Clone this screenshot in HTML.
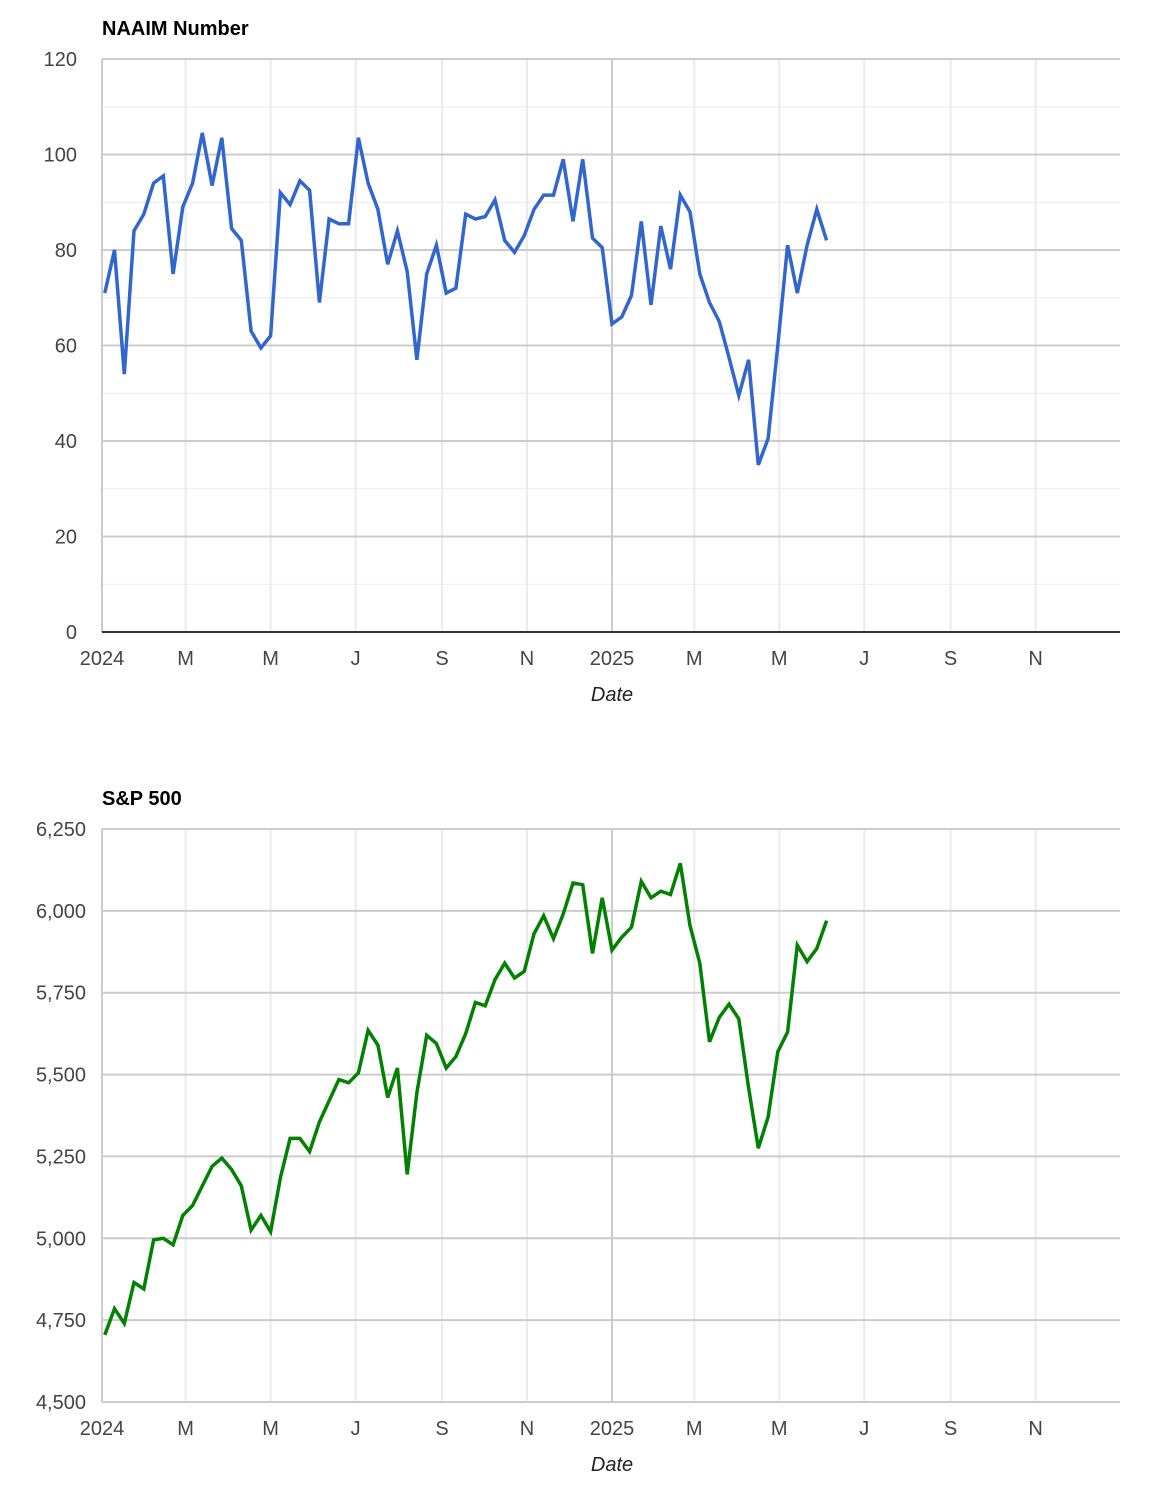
<!DOCTYPE html>
<html><head><meta charset="utf-8"><style>
body{margin:0;background:#fff;}
svg{display:block;font-family:"Liberation Sans",Arial,sans-serif;}
</style></head><body>
<svg id="svg" width="1156" height="1491" viewBox="0 0 1156 1491" xmlns="http://www.w3.org/2000/svg"></svg>
<script>
const naaimValues=[71,80,54,84,87.5,94,95.5,75,89,94,104.5,93.5,103.5,84.5,82,63,59.5,62,92,89.5,94.5,92.5,69,86.5,85.5,85.5,103.5,94,88.5,77,84,75.5,57,75,81,71,72,87.5,86.5,87,90.5,82,79.5,83,88.5,91.5,91.5,99,86,99,82.5,80.5,64.5,66,70.5,86,68.5,85,76,91.5,88,75,69,65,57.5,49.5,57,35,40.5,60,81,71,81,88.5,82];
const spxValues=[4705,4785,4740,4865,4845,4995,5000,4980,5070,5100,5160,5220,5245,5210,5160,5025,5070,5020,5185,5305,5305,5265,5355,5420,5485,5475,5505,5635,5590,5430,5520,5195,5445,5620,5595,5520,5555,5625,5720,5710,5790,5840,5795,5815,5930,5985,5915,5990,6085,6080,5870,6040,5880,5920,5950,6090,6040,6060,6050,6145,5955,5840,5600,5675,5715,5670,5460,5275,5370,5570,5630,5895,5845,5885,5970];
const startDate="2024-01-03";
const xTickLabels=["2024","M","M","J","S","N","2025","M","M","J","S","N"];
const xTickDates=["2024-01-01","2024-03-01","2024-05-01","2024-07-01","2024-09-01","2024-11-01","2025-01-01","2025-03-01","2025-05-01","2025-07-01","2025-09-01","2025-11-01"];
const naaimTicks=[0,20,40,60,80,100,120];
const spxTicks=[4500,4750,5000,5250,5500,5750,6000,6250];

const svg=document.getElementById('svg');
const NS="http://www.w3.org/2000/svg";
const X0=102,X1=1120;
const day0=Date.UTC(2024,0,1);
function xScale(d){return X0+(d-day0)/86400000*510/366;}
function parse(s){const p=s.split('-');return Date.UTC(+p[0],+p[1]-1,+p[2]);}
function mk(tag,attrs,parent){const e=document.createElementNS(NS,tag);for(const k in attrs)e.setAttribute(k,attrs[k]);(parent||svg).appendChild(e);return e;}

function chart(cfg){
  const g=mk('g',{});
  
  
  const y=v=>cfg.yB-(v-cfg.min)/(cfg.max-cfg.min)*(cfg.yB-cfg.yT);
  // minor horizontal
  if(cfg.minor){for(let v=cfg.min+cfg.minor;v<cfg.max;v+=cfg.step){const l=mk('line',{x1:X0,x2:X1,y1:y(v),y2:y(v),stroke:'#ebebeb','stroke-width':1},g);}}
  // vertical gridlines
  xTickDates.forEach((d,i)=>{const x=xScale(parse(d));if(i>0){const l=mk('line',{x1:x,x2:x,y1:cfg.yT,y2:cfg.yB,stroke:i===6?'#cccccc':'#ebebeb','stroke-width':i===6?2:2},g);}
    const t=mk('text',{x:x,y:cfg.yB+33,'text-anchor':'middle','font-size':20,fill:'#444'},g);t.textContent=xTickLabels[i];});
  const lft=mk('line',{x1:X0,x2:X0,y1:cfg.yT,y2:cfg.yB,stroke:'#cccccc','stroke-width':2},g);
  
  cfg.ticks.forEach((v,i)=>{const yy=y(v);const bottom=i===0;
    const l=mk('line',{x1:X0,x2:X1,y1:yy,y2:yy,stroke:bottom?cfg.baseColor:'#cccccc','stroke-width':2},g);
    const t=mk('text',{x:cfg.labelX,y:yy+7,'text-anchor':'end','font-size':20,fill:'#444'},g);t.textContent=cfg.fmt(v);});
  const start=parse(startDate);
  const pts=cfg.values.map((v,i)=>xScale(start+i*7*86400000).toFixed(1)+','+y(v).toFixed(1)).join(' ');
  const pl=mk('polyline',{points:pts,fill:'none',stroke:cfg.color,'stroke-width':3.5,'stroke-linejoin':'miter'},g);
  
  const ti=mk('text',{x:102,y:cfg.yT-24,'font-size':20,'font-weight':'bold',fill:'#000'},g);ti.textContent=cfg.title;
  
  const xt=mk('text',{x:612,y:cfg.yB+69,'text-anchor':'middle','font-size':20,'font-style':'italic',fill:'#222'},g);xt.textContent='Date';
  
}
chart({name:'naaim-chart',title:'NAAIM Number',values:naaimValues,ticks:naaimTicks,min:0,max:120,step:20,minor:10,yT:59,yB:632,labelX:77,color:'#3366cc',baseColor:'#333333',fmt:v=>String(v)});
chart({name:'sp500-chart',title:'S&P 500',values:spxValues,ticks:spxTicks,min:4500,max:6250,step:250,minor:0,yT:829,yB:1402,labelX:86,color:'#008000',baseColor:'#cccccc',fmt:v=>v.toLocaleString('en-US')});
</script>
</body></html>
